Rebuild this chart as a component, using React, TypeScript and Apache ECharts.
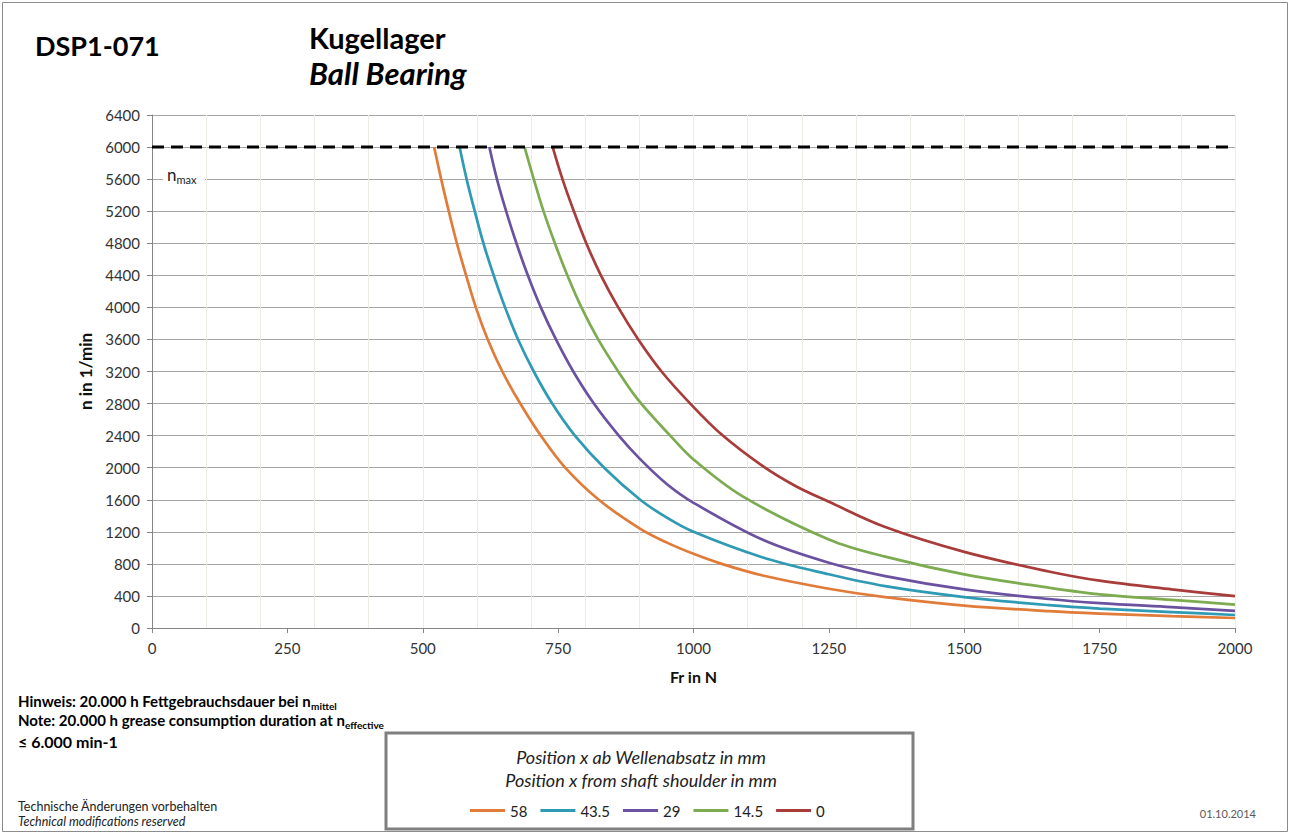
import React, { useEffect, useRef } from "react";
import * as echarts from "echarts";

// ---- Data ----
const X_MIN = 0;
const X_MAX = 2000;
const X_STEP = 250;
const X_MINOR_STEP = 100;
const Y_MIN = 0;
const Y_MAX = 6400;
const Y_STEP = 400;
const N_MAX = 6000;

const seriesNames = ["58", "43.5", "29", "14.5", "0"];
const seriesColors = ["#E07B39", "#2F9AB4", "#6B52A0", "#7DAB50", "#A83C3B"];

const pos58: [number, number][] = [
  [521, 6000], [534, 5600], [548, 5200], [563, 4800], [580, 4400], [598, 4000],
  [620, 3600], [647, 3200], [680, 2800], [718, 2400], [763, 2000], [825, 1600],
  [901, 1240], [950, 1068], [1000, 925], [1052, 800], [1128, 655], [1250, 490], [1354, 385],
  [1500, 280], [1656, 210], [1750, 180], [1883, 148], [2000, 125],
];
const pos43_5: [number, number][] = [
  [568, 6000], [581, 5600], [596, 5200], [612, 4800], [631, 4400], [652, 4000],
  [676, 3600], [705, 3200], [739, 2800], [781, 2400], [835, 2000], [901, 1603],
  [950, 1380], [1000, 1200], [1128, 880], [1250, 670], [1354, 522], [1500, 386], [1656, 285],
  [1750, 242], [1883, 199], [2000, 162],
];
const pos29: [number, number][] = [
  [623, 6000], [637, 5600], [654, 5200], [673, 4800], [694, 4400], [718, 4000],
  [746, 3600], [778, 3200], [816, 2800], [862, 2400], [901, 2110], [950, 1800], [1000, 1562],
  [1128, 1100], [1250, 814], [1354, 648], [1500, 482], [1656, 362], [1750, 310],
  [1883, 260], [2000, 214],
];
const pos14_5: [number, number][] = [
  [688, 6000], [705, 5600], [723, 5200], [744, 4800], [767, 4400], [793, 4000],
  [824, 3600], [861, 3200], [897, 2853], [957, 2400], [1000, 2102], [1090, 1645], [1250, 1105],
  [1354, 890], [1500, 669], [1656, 503], [1750, 420], [1883, 352], [2000, 292],
];
const pos0: [number, number][] = [
  [740, 6000], [758, 5600], [779, 5200], [802, 4800], [829, 4400], [861, 4000],
  [898, 3600], [941, 3200], [994, 2800], [1052, 2413], [1128, 2019], [1190, 1765], [1250, 1575],
  [1354, 1260], [1500, 950], [1656, 705], [1750, 590], [1883, 482], [2000, 397],
];
const seriesData = [pos58, pos43_5, pos29, pos14_5, pos0];
const nmaxLine: [number, number][] = [[X_MIN, N_MAX], [X_MAX, N_MAX]];

const FONT = 'Lato, "Open Sans", sans-serif';

export default function App() {
  const ref = useRef<HTMLDivElement>(null);
  useEffect(() => {
    document.body.style.margin = "0";
    const chart = echarts.init(ref.current!, undefined, { renderer: "svg" });
    const curveSeries = seriesNames.map((name, i) => ({
      name,
      type: "line",
      data: seriesData[i],
      xAxisIndex: 0,
      yAxisIndex: 0,
      smooth: 0.35,
      showSymbol: false,
      symbol: "none",
      lineStyle: { color: seriesColors[i], width: 2.7 },
      itemStyle: { color: seriesColors[i] },
      z: 3,
    }));
    const sub = (size: number) => ({
      m: { fontFamily: FONT, fontWeight: "bold", fontSize: size, fill: "#000", lineHeight: 20, verticalAlign: "middle" },
      s: { fontFamily: FONT, fontWeight: "bold", fontSize: 10, fill: "#000", lineHeight: 20, verticalAlign: "bottom" },
    });
    const option: any = {
      animation: false,
      backgroundColor: "#ffffff",
      textStyle: { fontFamily: FONT },
      grid: { left: 152, right: 55, top: 115, bottom: 205, containLabel: false },
      xAxis: [
        {
          type: "value",
          min: X_MIN,
          max: X_MAX,
          interval: X_STEP,
          name: "Fr in N",
          nameLocation: "middle",
          nameGap: 40,
          nameTextStyle: { fontFamily: FONT, fontWeight: "bold", fontSize: 16, color: "#111" },
          axisLine: { show: true, lineStyle: { color: "#868686", width: 1 } },
          axisTick: { show: true, length: 5, lineStyle: { color: "#868686" } },
          axisLabel: { fontFamily: FONT, fontSize: 15, color: "#333", margin: 12, formatter: (v: number) => String(v) },
          splitLine: { show: false },
          z: 2,
        },
        {
          type: "value",
          min: X_MIN,
          max: X_MAX,
          interval: X_MINOR_STEP,
          position: "bottom",
          axisLine: { show: false },
          axisTick: { show: false },
          axisLabel: { show: false },
          splitLine: { show: true, lineStyle: { color: "#ECECE4", width: 1 } },
        },
      ],
      yAxis: {
        type: "value",
        min: Y_MIN,
        max: Y_MAX,
        interval: Y_STEP,
        name: "n in 1/min",
        nameLocation: "middle",
        nameGap: 56,
        nameRotate: 90,
        nameTextStyle: { fontFamily: FONT, fontWeight: "bold", fontSize: 17, color: "#111" },
        axisLine: { show: true, lineStyle: { color: "#868686", width: 1 } },
        axisTick: { show: true, length: 5, lineStyle: { color: "#868686" } },
        axisLabel: { fontFamily: FONT, fontSize: 15, color: "#333", margin: 12, formatter: (v: number) => String(v) },
        splitLine: { show: true, lineStyle: { color: "#A6A6A6", width: 1 } },
      },
      legend: {
        data: seriesNames,
        left: 465,
        top: 798,
        icon: "rect",
        itemWidth: 35,
        itemHeight: 3,
        itemGap: 13,
        textStyle: { fontFamily: FONT, fontSize: 15, color: "#222" },
        selectedMode: false,
      },
      series: [
        ...curveSeries,
        {
          name: "nmax",
          type: "line",
          data: nmaxLine,
          showSymbol: false,
          symbol: "none",
          lineStyle: { color: "#000000", width: 3, type: [12, 7] },
          z: 5,
        },
      ],
      graphic: [
        { type: "rect", z: 0, shape: { x: 2.5, y: 2.5, width: 1285, height: 829 }, style: { fill: "transparent", stroke: "#8C8C8C", lineWidth: 1 } },
        { type: "text", z: 10, x: 35, y: 45, style: { text: "DSP1-071", font: `bold 27px ${FONT}`, fill: "#000", textVerticalAlign: "middle" } },
        { type: "text", z: 10, x: 309, y: 37, style: { text: "Kugellager", font: `bold 29px ${FONT}`, fill: "#000", textVerticalAlign: "middle" } },
        { type: "text", z: 10, x: 309, y: 73, style: { text: "Ball Bearing", font: `italic bold 31px ${FONT}`, fill: "#000", textVerticalAlign: "middle" } },
        // n_max label
        { type: "rect", z: 100, shape: { x: 163, y: 164, width: 42, height: 22 }, style: { fill: "#ffffff" } },
        {
          type: "text", z: 101, x: 167, y: 174,
          style: {
            text: "{m|n}{s|max}",
            textVerticalAlign: "middle",
            rich: {
              m: { fontFamily: FONT, fontSize: 17, fill: "#222", lineHeight: 22, verticalAlign: "middle" },
              s: { fontFamily: FONT, fontSize: 11, fill: "#222", lineHeight: 22, verticalAlign: "bottom" },
            },
          },
        },
        // notes
        { type: "text", z: 10, x: 18, y: 701, style: { text: "{m|Hinweis: 20.000 h Fettgebrauchsdauer bei n}{s|mittel}", textVerticalAlign: "middle", rich: sub(15) } },
        { type: "text", z: 10, x: 18, y: 720, style: { text: "{m|Note: 20.000 h grease consumption duration at n}{s|effective}", textVerticalAlign: "middle", rich: sub(15) } },
        { type: "text", z: 10, x: 18, y: 741, style: { text: "≤ 6.000 min-1", font: `bold 16px ${FONT}`, fill: "#000", textVerticalAlign: "middle" } },
        { type: "text", z: 10, x: 18, y: 806, style: { text: "Technische Änderungen vorbehalten", font: `12.5px ${FONT}`, fill: "#222", textVerticalAlign: "middle" } },
        { type: "text", z: 10, x: 18, y: 821, style: { text: "Technical modifications reserved", font: `italic 12.5px ${FONT}`, fill: "#222", textVerticalAlign: "middle" } },
        { type: "text", z: 10, x: 1256, y: 813, style: { text: "01.10.2014", font: `11px ${FONT}`, fill: "#595959", textAlign: "right", textVerticalAlign: "middle" } },
        // legend box
        { type: "rect", z: 1, shape: { x: 386, y: 733, width: 527, height: 96 }, style: { fill: "transparent", stroke: "#7F7F7F", lineWidth: 3 } },
        { type: "text", z: 10, x: 641, y: 757, style: { text: "Position x ab Wellenabsatz in mm", font: `italic 18px ${FONT}`, fill: "#222", textAlign: "center", textVerticalAlign: "middle" } },
        { type: "text", z: 10, x: 641, y: 780, style: { text: "Position x from shaft shoulder in mm", font: `italic 18px ${FONT}`, fill: "#222", textAlign: "center", textVerticalAlign: "middle" } },
      ],
    };
    chart.setOption(option);
    return () => chart.dispose();
  }, []);
  return <div ref={ref} style={{ position: "fixed", left: 0, top: 0, width: 1290, height: 833 }} />;
}
